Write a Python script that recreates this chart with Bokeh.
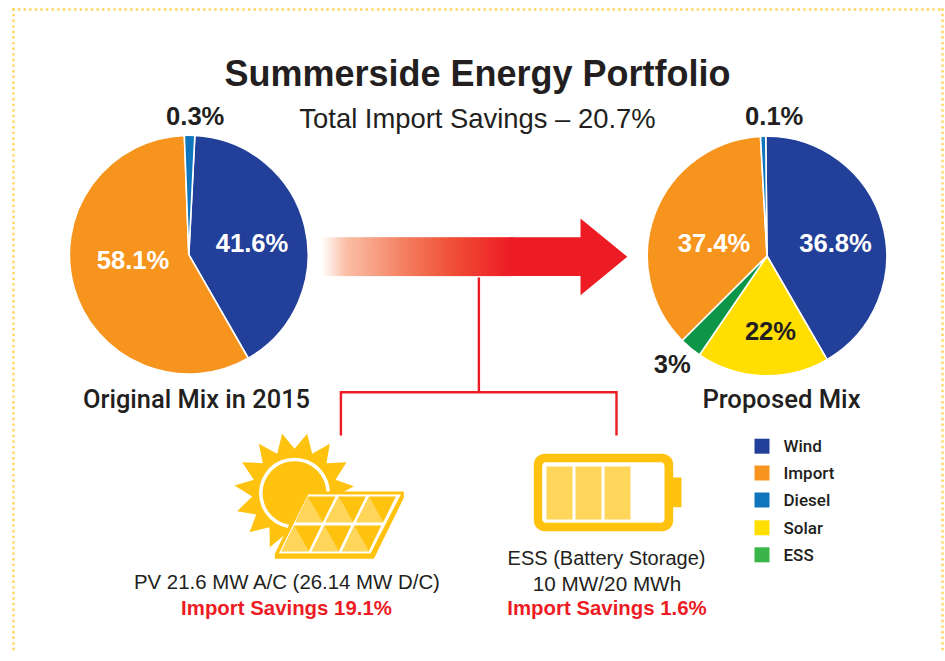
import math
from bokeh.plotting import figure
from bokeh.models import Range1d
from bokeh.core.properties import value
from bokeh.embed import file_html
from bokeh.resources import INLINE

# ---- data ----
series_names = ["Wind", "Import", "Diesel", "Solar", "ESS"]
legend_colors = ["#22409A", "#F7941E", "#0F75BC", "#FFDE00", "#39B54A"]

original_names = ["Wind", "Import", "Diesel"]
original_shares = [40.9, 57.7, 1.4]       # slice sizes as drawn
original_colors = ["#22409A", "#F7941E", "#0F75BC"]
original_labels = ["41.6%", "58.1%", "0.3%"]

proposed_names = ["Wind", "Solar", "ESS", "Import", "Diesel"]
proposed_shares = [41.8, 17.9, 3.0, 36.6, 0.7]   # slice sizes as drawn
proposed_colors = ["#22409A", "#FFDE00", "#0D9647", "#F7941E", "#0F75BC"]
proposed_labels = ["36.8%", "22%", "3%", "37.4%", "0.1%"]

title_text = "Summerside Energy Portfolio"
subtitle_text = "Total Import Savings \u2013 20.7%"

FONT = "Liberation Sans"
MEDIUM = "Roboto Medium"
INK = "#231F20"
RED = "#ED1C24"
SUN = "#FFC20E"
SUN_LIGHT = "#FFD65A"

W, H = 945, 661
p = figure(width=W, height=H, output_backend="svg", toolbar_location=None,
           x_range=Range1d(0, W), y_range=Range1d(0, H),
           min_border=0, outline_line_color=None, background_fill_color="white")
p.axis.visible = False
p.grid.visible = False


def Y(v):
    return 661 - v


def label(x, y, s, size, color=INK, bold=False, align="center", font=FONT):
    p.text([x], [Y(y)], text=[s], text_font=value(font), text_font_size=f"{size}px",
           text_color=color, text_align=align, text_baseline="middle",
           text_font_style="bold" if bold else "normal")


def pie(cx, cy, r, shares, colors, start_deg):
    total = sum(shares)
    a = start_deg
    for share, col in zip(shares, colors):
        b = a + share / total * 360
        p.wedge([cx], [Y(cy)], radius=r,
                start_angle=[math.radians(90 - a)], end_angle=[math.radians(90 - b)],
                direction="clock", fill_color=col, line_color="white", line_width=1.6)
        a = b


# dotted frame
dot_x = [13 + i * 5.61 for i in range(166)]
dot_y = [9 + i * 5.61 for i in range(115)]
fx = dot_x + [13] * len(dot_y) + [942] * len(dot_y)
fy = [9] * len(dot_x) + dot_y + dot_y
p.quad(left=[v - 1.2 for v in fx], right=[v + 1.2 for v in fx],
       top=[Y(v - 1.2) for v in fy], bottom=[Y(v + 1.2) for v in fy],
       fill_color=SUN_LIGHT, line_color=None)

# pies
pie(188.3, 254.2, 119.4, original_shares, original_colors, 2.9)
pie(766.5, 255.5, 119.8, proposed_shares, proposed_colors, -0.6)

# gradient arrow
stops = [(320, (255, 255, 255)), (345, (250, 190, 165)), (400, (244, 130, 100)),
         (450, (240, 80, 55)), (510, (237, 28, 36))]


def grad(x):
    for (x0, c0), (x1, c1) in zip(stops, stops[1:]):
        if x <= x1:
            t = (x - x0) / (x1 - x0)
            return tuple(round(u + (v - u) * t) for u, v in zip(c0, c1))
    return stops[-1][1]


lefts = list(range(320, 512, 2))
p.quad(left=lefts, right=[v + 2.6 for v in lefts], top=[Y(236.8)] * len(lefts), bottom=[Y(275.6)] * len(lefts),
       fill_color=["#%02X%02X%02X" % grad(v) for v in lefts], line_color=None)
p.patch([510, 580, 580, 626.8, 580, 580, 510],
        [Y(v) for v in [236.8, 236.8, 218, 256.3, 294.8, 275.6, 275.6]], fill_color=RED, line_color=None)

# connector
p.line([478.4, 478.4], [Y(277), Y(391.8)], line_color=RED, line_width=2.4)
p.line([340.4, 340.4, 616, 616], [Y(435), Y(391.8), Y(391.8), Y(435)], line_color=RED, line_width=2.4,
       line_join="miter")


# sun + panel: icon outlines given in 3x crop units
def sx(v):
    return 220 + v / 3


def sy(v):
    return Y(420 + v / 3)


def poly(pts, color):
    p.patch([sx(a) for a, _ in pts], [sy(b) for _, b in pts], fill_color=color, line_color=None)


rays = [(260, 40), (275, 100), (328, 70), (318, 128), (378, 125), (345, 178), (400, 197), (350, 225),
        (330, 300), (190, 345), (148, 380), (147, 320), (87, 335), (107, 282), (50, 272), (95, 228),
        (42, 195), (100, 178), (65, 125), (127, 128), (115, 70), (170, 100), (185, 40), (222, 85)]
poly(rays, SUN)
p.circle([sx(222)], [sy(218)], radius=35.5, fill_color="white", line_color=None)
p.circle([sx(222)], [sy(218)], radius=32, fill_color=SUN, line_color=None)
poly([(163, 400), (255, 213), (550, 213), (550, 232), (460, 415), (163, 415)], SUN)
poly([(175, 399), (263, 222), (541, 222), (450, 399)], "white")
row_cells = [
    [(262, 228), (345, 228), (307, 305), (225, 305)],
    [(355, 228), (436, 228), (398, 305), (315, 305)],
    [(446, 228), (526, 228), (488, 305), (407, 305)],
    [(221, 315), (302, 315), (265, 392), (183, 392)],
    [(312, 315), (392, 315), (355, 392), (274, 392)],
    [(402, 315), (482, 315), (445, 392), (365, 392)],
]
for c in row_cells:
    poly(c, SUN)
    poly([c[0], c[2], c[3]], SUN_LIGHT)


# battery (3x crop units)
def bx(v):
    return 520 + v / 3


def by(v):
    return Y(420 + v / 3)


def round_rect(x0, y0, x1, y1, r, color):
    xs, ys = [], []
    for cx, cy, a0 in ((x1 - r, y0 + r, -90), (x1 - r, y1 - r, 0), (x0 + r, y1 - r, 90), (x0 + r, y0 + r, 180)):
        for k in range(9):
            t = math.radians(a0 + k * 90 / 8)
            xs.append(bx(cx + r * math.cos(t)))
            ys.append(by(cy + r * math.sin(t)))
    p.patch(xs, ys, fill_color=color, line_color=None)


p.quad(left=[bx(455)], right=[bx(483)], top=[by(171)], bottom=[by(260)], fill_color=SUN, line_color=None)
round_rect(40, 100, 458, 332, 32, SUN)
round_rect(65, 125, 432, 307, 12, "white")
p.quad(left=[bx(v) for v in (78, 165, 252)], right=[bx(v) for v in (156, 243, 330)],
       top=[by(138)] * 3, bottom=[by(297)] * 3, fill_color=SUN_LIGHT, line_color=None)

# legend
legend_y = [445.7, 472.5, 499.5, 527.3, 554.3]
for name, col, yy in zip(series_names, legend_colors, legend_y):
    p.quad(left=[754], right=[769], top=[Y(yy - 7.5)], bottom=[Y(yy + 7.5)], fill_color=col, line_color=None)
    label(783, yy, name, 17, align="left", font=MEDIUM)

# texts
label(477, 73, title_text, 36, bold=True)
label(477, 117.5, subtitle_text, 27.4)
label(194.7, 115.5, original_labels[2], 25.6, bold=True)
label(773.7, 115.5, proposed_labels[4], 25.6, bold=True)
label(251.5, 242.5, original_labels[0], 25.6, color="white", bold=True)
label(132.5, 259.5, original_labels[1], 25.6, color="white", bold=True)
label(835, 242.5, proposed_labels[0], 25.6, color="white", bold=True)
label(713.5, 242.5, proposed_labels[3], 25.6, color="white", bold=True)
label(770, 330.5, proposed_labels[1], 25.6, bold=True)
label(671.7, 363.5, proposed_labels[2], 25.6, bold=True)
label(196, 398, "Original Mix in 2015", 25.4, font=MEDIUM)
label(781, 398, "Proposed Mix", 25.6, font=MEDIUM)
label(287, 581.5, "PV 21.6 MW A/C (26.14 MW D/C)", 20.4)
label(286, 607.5, "Import Savings 19.1%", 20.4, color=RED, bold=True)
label(606, 557.5, "ESS (Battery Storage)", 20)
label(606.5, 583, "10 MW/20 MWh", 20.7)
label(606.5, 607.5, "Import Savings 1.6%", 20.4, color=RED, bold=True)

open("out.html", "w").write(file_html(p, INLINE))
